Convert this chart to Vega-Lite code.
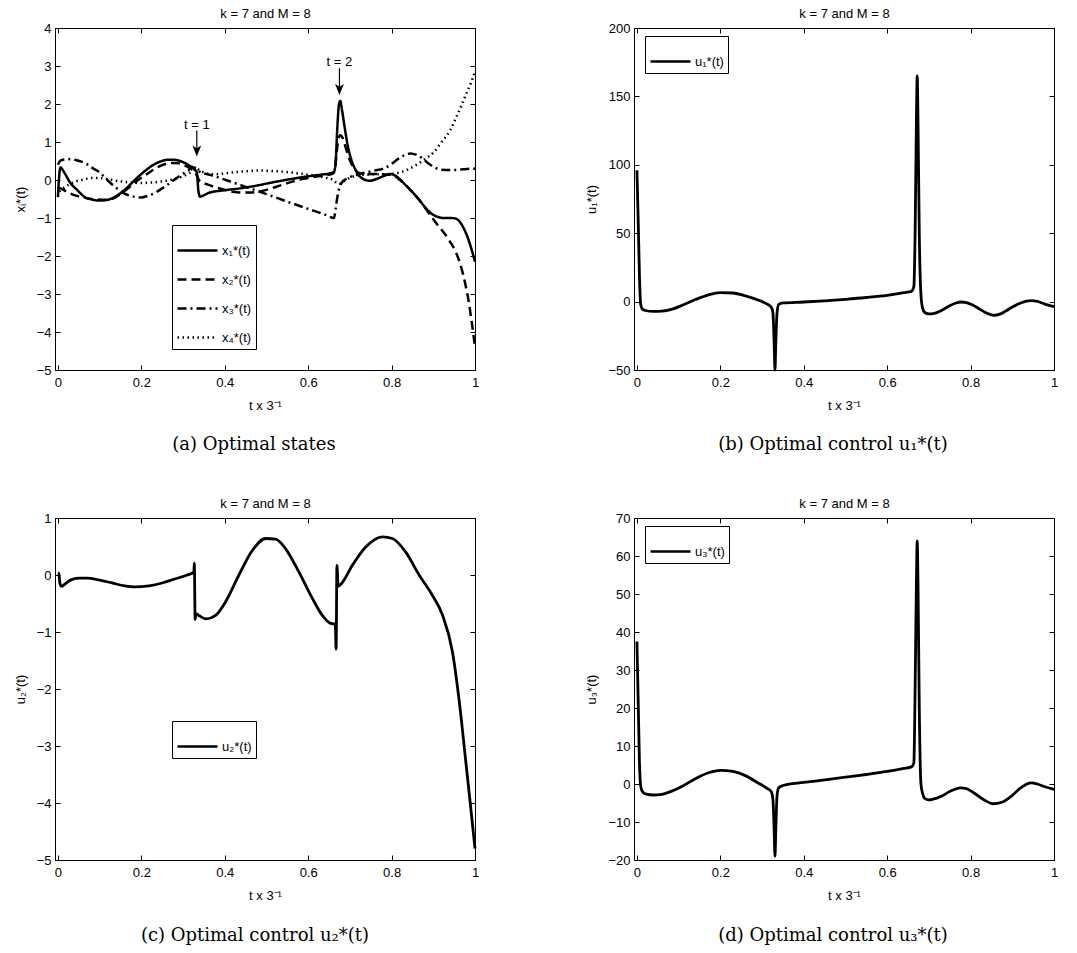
{
  "$schema": "https://vega.github.io/schema/vega-lite/v6.json",
  "background": "white",
  "padding": {"left": 13, "top": 7, "right": 5, "bottom": 5},
  "datasets": {
    "states": [
      {"s": "x₁*(t)", "t": [0,0.003,0.006,0.015,0.03,0.045,0.066,0.08,0.098,0.115,0.13,0.146,0.162,0.178,0.194,0.21,0.226,0.244,0.262,0.28,0.298,0.315,0.328,0.333,0.337,0.341,0.35,0.364,0.4,0.436,0.48,0.516,0.556,0.596,0.63,0.655,0.662,0.666,0.67,0.674,0.677,0.681,0.688,0.695,0.703,0.712,0.722,0.735,0.748,0.762,0.78,0.797,0.808,0.82,0.835,0.85,0.866,0.882,0.895,0.908,0.925,0.94,0.952,0.962,0.972,0.982,0.991,1.0],
       "v": [-0.45,0.1,0.33,0.2,-0.08,-0.25,-0.46,-0.51,-0.54,-0.53,-0.48,-0.38,-0.24,-0.07,0.1,0.25,0.38,0.48,0.53,0.53,0.48,0.38,0.28,0.2,-0.3,-0.44,-0.4,-0.33,-0.27,-0.22,-0.14,-0.06,0.02,0.09,0.14,0.18,0.22,0.5,1.4,2.0,2.08,1.85,1.35,0.9,0.55,0.3,0.12,0.01,-0.02,0.02,0.1,0.16,0.12,0.02,-0.15,-0.32,-0.52,-0.74,-0.88,-0.96,-1.0,-1.0,-1.01,-1.08,-1.25,-1.5,-1.8,-2.15]},
      {"s": "x₂*(t)", "t": [0,0.006,0.02,0.04,0.066,0.09,0.12,0.135,0.146,0.162,0.178,0.194,0.21,0.226,0.242,0.258,0.274,0.29,0.305,0.318,0.327,0.333,0.338,0.345,0.36,0.38,0.4,0.42,0.44,0.46,0.48,0.5,0.52,0.54,0.56,0.58,0.6,0.62,0.64,0.658,0.664,0.668,0.672,0.677,0.683,0.69,0.698,0.706,0.715,0.725,0.74,0.76,0.78,0.797,0.808,0.82,0.835,0.85,0.866,0.882,0.895,0.91,0.925,0.94,0.955,0.967,0.977,0.985,0.991,0.996,1.0],
       "v": [-0.2,-0.22,-0.3,-0.4,-0.47,-0.51,-0.52,-0.47,-0.4,-0.27,-0.13,0.01,0.13,0.25,0.35,0.42,0.45,0.44,0.38,0.3,0.22,0.12,0.0,-0.06,-0.12,-0.2,-0.26,-0.31,-0.33,-0.33,-0.31,-0.26,-0.19,-0.12,-0.05,0.01,0.05,0.09,0.12,0.16,0.25,0.7,1.05,1.18,1.1,0.85,0.58,0.38,0.24,0.17,0.15,0.16,0.15,0.14,0.1,0.0,-0.15,-0.32,-0.52,-0.76,-0.96,-1.18,-1.38,-1.62,-1.92,-2.3,-2.75,-3.2,-3.65,-4.05,-4.4]},
      {"s": "x₃*(t)", "t": [0,0.005,0.015,0.03,0.045,0.066,0.085,0.1,0.115,0.13,0.145,0.16,0.175,0.19,0.2,0.215,0.234,0.25,0.266,0.282,0.298,0.312,0.325,0.333,0.34,0.355,0.37,0.4,0.45,0.5,0.55,0.6,0.64,0.662,0.666,0.67,0.675,0.68,0.69,0.705,0.72,0.74,0.76,0.78,0.8,0.815,0.83,0.846,0.86,0.875,0.89,0.905,0.92,0.94,0.96,0.98,1.0],
       "v": [0.4,0.5,0.54,0.55,0.52,0.44,0.3,0.2,0.04,-0.12,-0.25,-0.36,-0.42,-0.45,-0.46,-0.42,-0.33,-0.22,-0.1,0.03,0.15,0.25,0.33,0.3,0.22,0.16,0.12,0.01,-0.18,-0.37,-0.57,-0.76,-0.91,-1.0,-0.75,-0.45,-0.2,-0.08,0.02,0.1,0.15,0.2,0.25,0.3,0.42,0.55,0.65,0.7,0.66,0.56,0.42,0.32,0.27,0.26,0.27,0.29,0.3]},
      {"s": "x₄*(t)", "t": [0.003,0.015,0.03,0.045,0.06,0.08,0.1,0.12,0.14,0.16,0.18,0.2,0.22,0.24,0.26,0.28,0.3,0.315,0.328,0.333,0.34,0.355,0.37,0.39,0.42,0.45,0.48,0.51,0.54,0.57,0.6,0.625,0.645,0.66,0.672,0.68,0.69,0.705,0.72,0.74,0.76,0.78,0.8,0.82,0.84,0.86,0.88,0.9,0.92,0.94,0.955,0.967,0.978,0.99,1.0],
       "v": [-0.3,-0.2,-0.1,-0.03,0.01,0.05,0.05,0.02,-0.02,-0.05,-0.07,-0.08,-0.07,-0.05,-0.02,0.03,0.1,0.18,0.27,0.3,0.25,0.18,0.15,0.16,0.2,0.23,0.25,0.24,0.22,0.18,0.14,0.1,0.05,0.0,-0.1,-0.08,0.0,0.08,0.12,0.14,0.15,0.15,0.16,0.2,0.28,0.4,0.55,0.72,1.0,1.3,1.65,1.95,2.24,2.55,2.85]}
    ],
    "arrows": [
      {"t": 0.333, "top": 1.3, "head": 0.76, "ly": 1.46, "label": "t = 1"},
      {"t": 0.675, "top": 2.94, "head": 2.38, "ly": 3.11, "label": "t = 2"}
    ],
    "u1": [
      {"s": "u₁*(t)", "t": [0,0.003,0.006,0.009,0.013,0.02,0.04,0.06,0.085,0.11,0.14,0.17,0.2,0.23,0.26,0.29,0.31,0.322,0.326,0.329,0.331,0.333,0.336,0.34,0.35,0.4,0.45,0.5,0.55,0.6,0.64,0.658,0.664,0.667,0.67,0.672,0.674,0.677,0.681,0.685,0.69,0.7,0.71,0.73,0.75,0.765,0.778,0.79,0.805,0.82,0.84,0.856,0.87,0.885,0.9,0.92,0.945,0.96,0.98,1.0],
       "v": [96,60,20,-2,-5.5,-6.5,-7.2,-7,-5.5,-2.5,1.5,4.8,6.6,6.3,4.2,1.2,-1.5,-4,-8,-30,-50,-30,-8,-2,-1,-0.3,0.6,1.7,3,4.6,6.5,7.5,11,50,130,165,130,50,5,-5,-8,-9,-8.8,-6.5,-3,-1,-0.3,-0.8,-2.5,-5.2,-8.6,-10,-9.2,-6.8,-4,-1,0.7,0.2,-2,-3.6]}
    ],
    "u2": [
      {"s": "u₂*(t)", "t": [0,0.002,0.005,0.009,0.015,0.03,0.05,0.07,0.1,0.13,0.16,0.186,0.218,0.25,0.28,0.31,0.326,0.327,0.329,0.331,0.34,0.356,0.378,0.402,0.434,0.466,0.498,0.522,0.546,0.578,0.61,0.634,0.654,0.665,0.667,0.669,0.672,0.68,0.706,0.738,0.778,0.802,0.834,0.866,0.898,0.922,0.946,0.962,0.978,0.99,1.0],
       "v": [0.04,0.03,-0.15,-0.2,-0.17,-0.09,-0.055,-0.055,-0.09,-0.14,-0.19,-0.21,-0.19,-0.14,-0.07,0.0,0.05,0.21,-0.78,-0.68,-0.72,-0.77,-0.71,-0.47,0.0,0.43,0.64,0.63,0.46,0.05,-0.41,-0.71,-0.85,-0.86,-1.3,0.17,-0.2,-0.15,0.17,0.49,0.67,0.64,0.4,0.0,-0.36,-0.7,-1.35,-2.2,-3.28,-4.1,-4.8]}
    ],
    "u3": [
      {"s": "u₃*(t)", "t": [0,0.003,0.006,0.009,0.013,0.02,0.04,0.06,0.085,0.11,0.14,0.17,0.2,0.23,0.26,0.29,0.31,0.322,0.326,0.329,0.331,0.333,0.336,0.34,0.35,0.4,0.45,0.5,0.55,0.6,0.64,0.658,0.664,0.667,0.67,0.672,0.674,0.677,0.681,0.685,0.69,0.7,0.71,0.73,0.75,0.775,0.79,0.81,0.83,0.855,0.875,0.9,0.92,0.945,0.96,0.98,1.0],
       "v": [37.5,22,6,-0.5,-2,-2.6,-2.9,-2.7,-1.8,-0.5,1.4,2.9,3.6,3.3,2.2,0.3,-1,-2,-4,-12,-19,-12,-3,-1,-0.4,0.4,1.1,1.8,2.5,3.3,4.1,4.5,5.5,25,52,64,52,20,0,-2.5,-3.8,-4.2,-4,-3.2,-2,-1,-1.2,-2.5,-4,-5.2,-4.8,-3,-1,0.3,0,-0.8,-1.4]}
    ]
  },
  "concat": [
    {
      "width": 420, "height": 342,
      "title": {"text": "(a)  Optimal states", "orient": "bottom", "frame": "group", "dx": -11, "offset": 24},
      "layer": [
        {
          "data": {"name": "states"},
          "transform": [{"flatten": ["t", "v"]}],
          "mark": {"type": "line", "color": "black", "interpolate": "monotone"},
          "encoding": {
            "x": {"field": "t", "type": "quantitative", "scale": {"domain": [-0.007, 1], "nice": false, "zero": false}, "axis": {"orient": "bottom", "values": [0, 0.2, 0.4, 0.6, 0.8, 1], "format": "~g", "title": "t x 3⁻¹"}},
            "y": {"field": "v", "type": "quantitative", "scale": {"domain": [-5, 4], "nice": false, "zero": false}, "axis": {"orient": "left", "values": [-5, -4, -3, -2, -1, 0, 1, 2, 3, 4], "format": "d", "title": "xᵢ*(t)"}},
            "strokeDash": {"field": "s", "type": "nominal", "scale": {"domain": ["x₁*(t)", "x₂*(t)", "x₃*(t)", "x₄*(t)"], "range": [[1, 0], [9, 5], [9, 4, 2, 4], [1.5, 3.5]]}, "legend": {"orient": "none", "legendX": 117, "legendY": 197}},
            "strokeWidth": {"field": "s", "type": "nominal", "scale": {"domain": ["x₁*(t)", "x₂*(t)", "x₃*(t)", "x₄*(t)"], "range": [2.5, 2.5, 2.5, 1.3]}, "legend": null}
          }
        },
        {
          "data": {"name": "states"},
          "transform": [{"flatten": ["t", "v"]}],
          "mark": {"type": "line", "opacity": 0},
          "encoding": {
            "x": {"field": "t", "type": "quantitative", "scale": {"domain": [-0.007, 1], "nice": false, "zero": false}, "axis": {"orient": "top", "values": [0, 0.2, 0.4, 0.6, 0.8, 1], "labels": false, "title": "k = 7 and M = 8"}},
            "y": {"field": "v", "type": "quantitative", "scale": {"domain": [-5, 4], "nice": false, "zero": false}, "axis": {"orient": "right", "values": [-5, -4, -3, -2, -1, 0, 1, 2, 3, 4], "labels": false, "title": null}}
          }
        },
        {
          "data": {"name": "arrows"},
          "mark": {"type": "rule", "color": "black", "strokeWidth": 1.2},
          "encoding": {
            "x": {"field": "t", "type": "quantitative", "axis": null},
            "y": {"field": "top", "type": "quantitative", "axis": null},
            "y2": {"field": "head"}
          }
        },
        {
          "data": {"name": "arrows"},
          "mark": {"type": "point", "shape": "M0,1L-0.8,-1L0,-0.5L0.8,-1Z", "filled": true, "color": "black", "opacity": 1, "size": 121},
          "encoding": {
            "x": {"field": "t", "type": "quantitative", "axis": null},
            "y": {"field": "head", "type": "quantitative", "axis": null}
          }
        },
        {
          "data": {"name": "arrows"},
          "mark": {"type": "text", "font": "Liberation Sans", "fontSize": 13, "color": "black", "baseline": "middle"},
          "encoding": {
            "x": {"field": "t", "type": "quantitative", "axis": null},
            "y": {"field": "ly", "type": "quantitative", "axis": null},
            "text": {"field": "label"}
          }
        }
      ],
      "resolve": {"axis": {"x": "independent", "y": "independent"}}
    },
    {
      "width": 420, "height": 342,
      "title": {"text": "(b)  Optimal control u₁*(t)", "orient": "bottom", "frame": "group", "dx": -11, "offset": 24},
      "data": {"name": "u1"},
      "transform": [{"flatten": ["t", "v"]}],
      "layer": [
        {
          "mark": {"type": "line", "strokeWidth": 2.8, "interpolate": "monotone"},
          "encoding": {
            "x": {"field": "t", "type": "quantitative", "scale": {"domain": [-0.007, 1], "nice": false, "zero": false}, "axis": {"orient": "bottom", "values": [0, 0.2, 0.4, 0.6, 0.8, 1], "format": "~g", "title": "t x 3⁻¹"}},
            "y": {"field": "v", "type": "quantitative", "scale": {"domain": [-50, 200], "nice": false, "zero": false}, "axis": {"orient": "left", "values": [-50, 0, 50, 100, 150, 200], "format": "d", "title": "u₁*(t)"}},
            "color": {"field": "s", "type": "nominal", "scale": {"range": ["black"]}, "legend": {"orient": "none", "legendX": 11, "legendY": 8}}
          }
        },
        {
          "mark": {"type": "line", "opacity": 0},
          "encoding": {
            "x": {"field": "t", "type": "quantitative", "scale": {"domain": [-0.007, 1], "nice": false, "zero": false}, "axis": {"orient": "top", "values": [0, 0.2, 0.4, 0.6, 0.8, 1], "labels": false, "title": "k = 7 and M = 8"}},
            "y": {"field": "v", "type": "quantitative", "scale": {"domain": [-50, 200], "nice": false, "zero": false}, "axis": {"orient": "right", "values": [-50, 0, 50, 100, 150, 200], "labels": false, "title": null}}
          }
        }
      ],
      "resolve": {"axis": {"x": "independent", "y": "independent"}}
    },
    {
      "width": 420, "height": 342,
      "title": {"text": "(c)  Optimal control u₂*(t)", "orient": "bottom", "frame": "group", "dx": -10, "offset": 25},
      "data": {"name": "u2"},
      "transform": [{"flatten": ["t", "v"]}],
      "layer": [
        {
          "mark": {"type": "line", "strokeWidth": 2.8, "interpolate": "monotone"},
          "encoding": {
            "x": {"field": "t", "type": "quantitative", "scale": {"domain": [-0.007, 1], "nice": false, "zero": false}, "axis": {"orient": "bottom", "values": [0, 0.2, 0.4, 0.6, 0.8, 1], "format": "~g", "title": "t x 3⁻¹"}},
            "y": {"field": "v", "type": "quantitative", "scale": {"domain": [-5, 1], "nice": false, "zero": false}, "axis": {"orient": "left", "values": [-5, -4, -3, -2, -1, 0, 1], "format": "d", "title": "u₂*(t)"}},
            "color": {"field": "s", "type": "nominal", "scale": {"range": ["black"]}, "legend": {"orient": "none", "legendX": 117, "legendY": 203}}
          }
        },
        {
          "mark": {"type": "line", "opacity": 0},
          "encoding": {
            "x": {"field": "t", "type": "quantitative", "scale": {"domain": [-0.007, 1], "nice": false, "zero": false}, "axis": {"orient": "top", "values": [0, 0.2, 0.4, 0.6, 0.8, 1], "labels": false, "title": "k = 7 and M = 8"}},
            "y": {"field": "v", "type": "quantitative", "scale": {"domain": [-5, 1], "nice": false, "zero": false}, "axis": {"orient": "right", "values": [-5, -4, -3, -2, -1, 0, 1], "labels": false, "title": null}}
          }
        }
      ],
      "resolve": {"axis": {"x": "independent", "y": "independent"}}
    },
    {
      "width": 420, "height": 342,
      "title": {"text": "(d)  Optimal control u₃*(t)", "orient": "bottom", "frame": "group", "dx": -11, "offset": 25},
      "data": {"name": "u3"},
      "transform": [{"flatten": ["t", "v"]}],
      "layer": [
        {
          "mark": {"type": "line", "strokeWidth": 2.8, "interpolate": "monotone"},
          "encoding": {
            "x": {"field": "t", "type": "quantitative", "scale": {"domain": [-0.007, 1], "nice": false, "zero": false}, "axis": {"orient": "bottom", "values": [0, 0.2, 0.4, 0.6, 0.8, 1], "format": "~g", "title": "t x 3⁻¹"}},
            "y": {"field": "v", "type": "quantitative", "scale": {"domain": [-20, 70], "nice": false, "zero": false}, "axis": {"orient": "left", "values": [-20, -10, 0, 10, 20, 30, 40, 50, 60, 70], "format": "d", "title": "u₃*(t)"}},
            "color": {"field": "s", "type": "nominal", "scale": {"range": ["black"]}, "legend": {"orient": "none", "legendX": 11, "legendY": 8}}
          }
        },
        {
          "mark": {"type": "line", "opacity": 0},
          "encoding": {
            "x": {"field": "t", "type": "quantitative", "scale": {"domain": [-0.007, 1], "nice": false, "zero": false}, "axis": {"orient": "top", "values": [0, 0.2, 0.4, 0.6, 0.8, 1], "labels": false, "title": "k = 7 and M = 8"}},
            "y": {"field": "v", "type": "quantitative", "scale": {"domain": [-20, 70], "nice": false, "zero": false}, "axis": {"orient": "right", "values": [-20, -10, 0, 10, 20, 30, 40, 50, 60, 70], "labels": false, "title": null}}
          }
        }
      ],
      "resolve": {"axis": {"x": "independent", "y": "independent"}}
    }
  ],
  "columns": 2,
  "spacing": {"row": 148, "column": 159},
  "bounds": "flush",
  "resolve": {
    "scale": {"color": "independent", "strokeDash": "independent", "strokeWidth": "independent", "x": "independent", "y": "independent"},
    "legend": {"color": "independent", "strokeDash": "independent", "strokeWidth": "independent"}
  },
  "config": {
    "font": "Liberation Sans",
    "view": {"stroke": "black", "strokeWidth": 1},
    "axis": {
      "domainColor": "black", "domainWidth": 1, "tickColor": "black", "tickWidth": 1, "tickSize": -5,
      "labelColor": "black", "labelFont": "Liberation Sans", "labelFontSize": 13, "labelPadding": 9,
      "labelFlush": false, "labelOverlap": false, "grid": false,
      "titleColor": "black", "titleFont": "Liberation Sans", "titleFontSize": 13, "titleFontWeight": "normal"
    },
    "axisBottom": {"titlePadding": 10, "labelPadding": 11},
    "axisLeft": {"titlePadding": 9},
    "axisTop": {"titlePadding": 7},
    "legend": {
      "title": null, "strokeColor": "black", "fillColor": "white", "padding": 4, "rowPadding": -1.5,
      "symbolType": "stroke", "symbolSize": 1600, "symbolStrokeWidth": 2.5, "symbolStrokeColor": "black",
      "labelFont": "Liberation Sans", "labelFontSize": 13, "labelColor": "black", "labelOffset": 3
    },
    "title": {"font": "DejaVu Serif", "fontSize": 18, "fontWeight": "normal", "color": "black"}
  }
}
